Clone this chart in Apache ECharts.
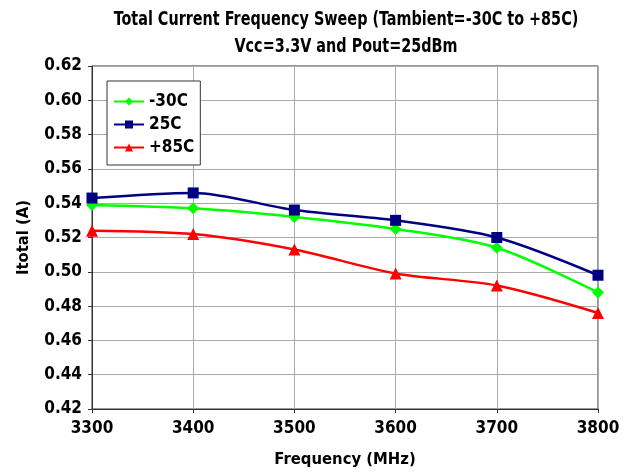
<!DOCTYPE html>
<html><head><meta charset="utf-8">
<script src="https://cdn.jsdelivr.net/npm/echarts@6/dist/echarts.min.js"></script>
<style>html,body{margin:0;padding:0;background:#fff}#c{width:630px;height:475px}</style>
</head><body><div id="c"></div>
<script>
const freqs = [3300, 3400, 3500, 3600, 3700, 3800];
const tM30 = [0.539, 0.537, 0.532, 0.525, 0.514, 0.488];
const t25 = [0.543, 0.546, 0.536, 0.530, 0.520, 0.498];
const t85 = [0.524, 0.522, 0.513, 0.499, 0.492, 0.476];
const seriesNames = ['-30C', '25C', '+85C'];
const titleLines = ['Total Current Frequency Sweep (Tambient=-30C to +85C)', 'Vcc=3.3V and Pout=25dBm'];
const FONT = '"DejaVu Sans Condensed", "Liberation Sans Narrow", sans-serif';
const pairs = arr => freqs.map((f, i) => [f, arr[i]]);
const chart = echarts.init(document.getElementById('c'));
const mk = (name, data, color, symbol, size) => ({
  name, type: 'line', data: pairs(data), smooth: 0.3,
  symbol, symbolSize: size, lineStyle: {color, width: 2.5},
  itemStyle: {color}
});
const titleText = (txt, y) => ({
  type: 'text', x: 346, y, scaleX: 0.8, silent: true,
  style: {text: txt, fontFamily: FONT, fontWeight: 'bold', fontSize: 20, fill: '#000',
    align: 'center', verticalAlign: 'middle'}
});
chart.setOption({
  animation: false,
  legend: {
    orient: 'vertical', left: 107, top: 81,
    padding: [12, 6, 9, 6], itemGap: 6,
    borderColor: '#333', borderWidth: 1, backgroundColor: '#fff',
    itemWidth: 30, itemHeight: 10,
    textStyle: {fontFamily: FONT, fontWeight: 'bold', fontSize: 17, color: '#000'},
    data: seriesNames
  },
  grid: {left: 92, right: 32, top: 66, bottom: 66},
  xAxis: {
    type: 'value', min: 3300, max: 3800, interval: 100,
    name: 'Frequency (MHz)', nameLocation: 'middle', nameGap: 42,
    nameTextStyle: {fontFamily: FONT, fontWeight: 'bold', fontSize: 16.5, color: '#000'},
    axisLine: {show: true, lineStyle: {color: '#333'}},
    axisTick: {show: true, length: 4, lineStyle: {color: '#333'}},
    axisLabel: {fontFamily: FONT, fontWeight: 'bold', fontSize: 17, color: '#000', margin: 11,
      formatter: v => String(v)},
    splitLine: {show: true, lineStyle: {color: '#aaa', width: 1}}
  },
  yAxis: {
    type: 'value', min: 0.42, max: 0.62, interval: 0.02,
    name: 'Itotal (A)', nameLocation: 'middle', nameGap: 60, nameRotate: 90,
    nameTextStyle: {fontFamily: FONT, fontWeight: 'bold', fontSize: 16.5, color: '#000'},
    axisLine: {show: true, lineStyle: {color: '#333'}},
    axisTick: {show: true, length: 4, lineStyle: {color: '#333'}},
    axisLabel: {fontFamily: FONT, fontWeight: 'bold', fontSize: 17, color: '#000', margin: 10,
      formatter: v => v.toFixed(2)},
    splitLine: {show: true, lineStyle: {color: '#aaa', width: 1}}
  },
  series: [
    mk('-30C', tM30, '#00ff00', 'diamond', 12),
    mk('25C', t25, '#000080', 'rect', 11),
    mk('+85C', t85, '#ff0000', 'triangle', 12)
  ],
  graphic: [
    titleText(titleLines[0], 20),
    titleText(titleLines[1], 47),
    {type: 'rect', shape: {x: 92, y: 66, width: 506, height: 343}, style: {fill: null, stroke: '#333', lineWidth: 1}, silent: true, z: 0}
  ]
});
</script></body></html>
